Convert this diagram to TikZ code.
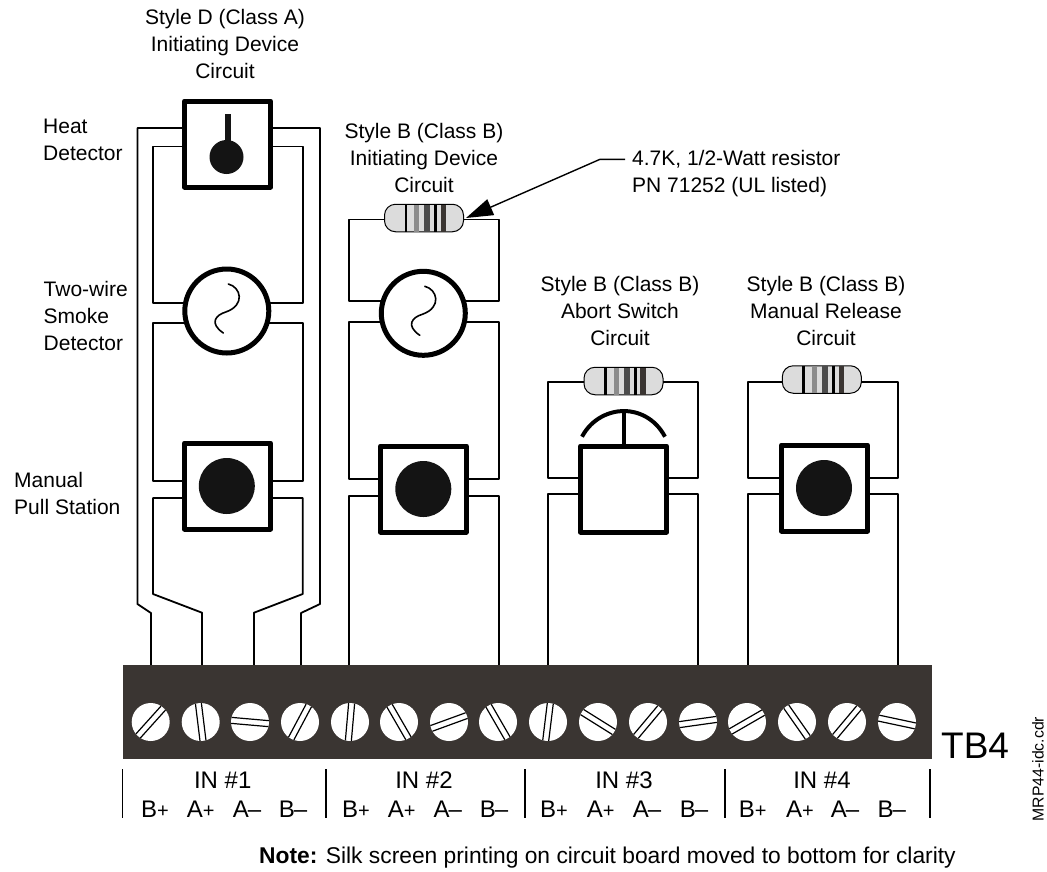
\documentclass[tikz,border=0pt]{standalone}
\usepackage{fontspec}
\setmainfont{Liberation Sans}
\usetikzlibrary{arrows.meta}
\definecolor{blockgray}{HTML}{3A3532}
\definecolor{bodygray}{HTML}{DCDCDC}
\tikzset{
    wire/.style = {line width = 1.8pt, line join = round},
    devbox/.style = {draw, line width = 5pt, fill = white, line join = round, minimum size = 86pt, inner sep = 0pt, outer sep = 0pt},
    devring/.style = {draw, circle, line width = 5pt, fill = white, minimum size = 84pt, inner sep = 0pt, outer sep = 0pt},
    devdot/.style = {circle, fill = black!92, inner sep = 0pt, outer sep = 0pt},
    screwhead/.style = {circle, fill = white, minimum size = 38pt, inner sep = 0pt, outer sep = 0pt},
    tick/.style = {line width = 1.5pt},
    lbl/.style = {align = center, font = \fontsize{21}{27}\selectfont, inner sep = 0pt},
    sidelbl/.style = {align = left, anchor = west, font = \fontsize{21}{27}\selectfont, inner sep = 0pt},
    inlbl/.style = {font = \fontsize{24}{24}\selectfont, inner sep = 0pt, anchor = base},
    pins/.style = {font = \fontsize{24}{24}\selectfont, inner sep = 0pt, anchor = base},
    resistor/.pic = {
        \node[draw, line width = 1pt, fill = bodygray, rounded corners = 11pt, minimum width = 79pt, minimum height = 27.5pt, inner sep = 0pt, outer sep = 0pt] (-body) at (0,0) {};
        \fill[black] (-19.5,-13.5) rectangle (-16.8,13.5);
        \fill[black!45] (-10,-13.5) rectangle (-4.7,13.5);
        \fill[black!70] (0.3,-13.5) rectangle (6,13.5);
        \fill[black] (10,-13.5) rectangle (13.3,13.5);
        \fill[blockgray] (16.7,-13.5) rectangle (22,13.5);
    },
    smoke/.pic = {
        \node[devring] (-body) at (0,0) {};
        \draw[line width = 1.6pt, line cap = round] (1.5,-27) .. controls (14,-24) and (19,-6) .. (-1,1) .. controls (-11,4) and (-18,12) .. (-3.5,22);
    },
}
\begin{document}
\begin{tikzpicture}[x = 1pt, y = -1pt]
    \useasboundingbox (0,0) rectangle (1047,871);
    % first circuit
    \node[devbox] (heat) at (227.5,144) {};
    \fill[black!92] (224.5,114) rectangle (230.5,145);
    \node[devdot, minimum size = 34pt] (heatdot) at (226.5,157) {};
    \pic (smokea) at (226.8,311) {smoke};
    \node[devbox] (pulla) at (227.5,486) {};
    \node[devdot, minimum size = 56pt] (pulladot) at (226.8,486) {};
    \coordinate (ta) at (151,665);
    \coordinate (tb) at (202,665);
    \coordinate (tc) at (254,665);
    \coordinate (td) at (301,665);
    \draw[wire] (heat.west |- 0,128) -- (137.5,128) -- (137.5,604) -- (151,613) -- (ta);
    \draw[wire] (heat.east |- 0,128) -- (320,128) -- (320,604) -- (301,613) -- (td);
    \draw[wire] (heat.west |- 0,146.5) -- (153,146.5) -- (153,302.7) -- (smokea-body.west |- 0,302.7);
    \draw[wire] (heat.east |- 0,146.5) -- (302.7,146.5) -- (302.7,302.7) -- (smokea-body.east |- 0,302.7);
    \draw[wire] (smokea-body.west |- 0,322.7) -- (153,322.7) -- (153,481) -- (pulla.west |- 0,481);
    \draw[wire] (smokea-body.east |- 0,322.7) -- (302.7,322.7) -- (302.7,481) -- (pulla.east |- 0,481);
    \draw[wire] (pulla.west |- 0,498) -- (153,498) -- (153,594) -- (202,612.7) -- (tb);
    \draw[wire] (pulla.east |- 0,498) -- (302.7,498) -- (302.7,594) -- (254,612.7) -- (tc);
    % second circuit
    \pic (resb) at (424,218) {resistor};
    \pic (smokeb) at (423.3,313.3) {smoke};
    \node[devbox] (pullb) at (423.3,489) {};
    \node[devdot, minimum size = 56pt] (pullbdot) at (423.3,489) {};
    \coordinate (te) at (349,665);
    \coordinate (tf) at (499.3,665);
    \draw[wire] (resb-body.west |- 0,219.5) -- (349,219.5) -- (349,301) -- (smokeb-body.west |- 0,301);
    \draw[wire] (resb-body.east |- 0,219.5) -- (499.3,219.5) -- (499.3,301) -- (smokeb-body.east |- 0,301);
    \draw[wire] (smokeb-body.west |- 0,321.7) -- (349,321.7) -- (349,479) -- (pullb.west |- 0,479);
    \draw[wire] (smokeb-body.east |- 0,321.7) -- (499.3,321.7) -- (499.3,479) -- (pullb.east |- 0,479);
    \draw[wire] (pullb.west |- 0,496) -- (349,496) -- (te);
    \draw[wire] (pullb.east |- 0,496) -- (499.3,496) -- (tf);
    % third circuit
    \pic (resc) at (623.5,381) {resistor};
    \node[devbox] (abort) at (623.5,489) {};
    \coordinate (tg) at (548,665);
    \coordinate (th) at (698,665);
    \draw[line width = 4pt] (582,436.7) .. controls (592,418) and (610,411) .. (624,411) .. controls (638,411) and (655,418) .. (665,436.7);
    \draw[line width = 4pt] (624,411) -- (abort.north -| 624,0);
    \draw[wire] (resc-body.west |- 0,381.7) -- (548,381.7) -- (548,477.7) -- (abort.west |- 0,477.7);
    \draw[wire] (resc-body.east |- 0,381.7) -- (698,381.7) -- (698,477.7) -- (abort.east |- 0,477.7);
    \draw[wire] (abort.west |- 0,494.3) -- (548,494.3) -- (tg);
    \draw[wire] (abort.east |- 0,494.3) -- (698,494.3) -- (th);
    % fourth circuit
    \pic (resd) at (821.8,379.5) {resistor};
    \node[devbox] (pullc) at (824.5,488) {};
    \node[devdot, minimum size = 56pt] (pullcdot) at (824,488) {};
    \coordinate (ti) at (747.7,665);
    \coordinate (tj) at (898,665);
    \draw[wire] (resd-body.west |- 0,381.7) -- (747.7,381.7) -- (747.7,477.7) -- (pullc.west |- 0,477.7);
    \draw[wire] (resd-body.east |- 0,381.7) -- (898,381.7) -- (898,477.7) -- (pullc.east |- 0,477.7);
    \draw[wire] (pullc.west |- 0,494) -- (747.7,494) -- (ti);
    \draw[wire] (pullc.east |- 0,494) -- (898,494) -- (tj);
    % terminal block
    \node[fill = blockgray, minimum width = 809pt, minimum height = 94pt, inner sep = 0pt, outer sep = 0pt] (block) at (527.2,712) {};
    \foreach \n/\x/\a in {1/150.7/48, 2/200.7/97, 3/250/-5, 4/300/62, 5/350/85, 6/399/120, 7/449/20, 8/498/120, 9/548/83, 10/598/148, 11/648/50, 12/698/8, 13/747/30, 14/797/125, 15/847/50, 16/897/-12} {
        \node[screwhead] (screw\n) at (\x,722) {};
        \begin{scope}[shift = {(\x,722)}, rotate = \a]
            \draw[line width = 1.2pt] (-18.7,-3) -- (18.7,-3);
            \draw[line width = 1.2pt] (-18.7,3) -- (18.7,3);
        \end{scope}
    }
    % silk screen labels
    \draw[tick] (122.7,769) -- (122.7,818);
    \draw[tick] (326,769) -- (326,818);
    \draw[tick] (525,769) -- (525,818);
    \draw[tick] (725,769) -- (725,818);
    \draw[tick] (930,769) -- (930,818);
    \node[inlbl] (ina) at (222.7,788) {IN \#1};
    \node[inlbl] (inb) at (424,788) {IN \#2};
    \node[inlbl] (inc) at (624,788) {IN \#3};
    \node[inlbl] (ind) at (822,788) {IN \#4};
    \foreach \m/\p/\q/\r/\s in {a/155/200.7/247/293, b/356/401.7/447.7/494, c/554/600.7/647/694, d/752.7/800/845/891.7} {
        \node[pins] (bp\m) at (\p,817) {B{\fontsize{20}{20}\selectfont+}};
        \node[pins] (ap\m) at (\q,817) {A{\fontsize{20}{20}\selectfont+}};
        \node[pins] (am\m) at (\r,817) {A\kern-1pt--};
        \node[pins] (bm\m) at (\s,817) {B\kern-1pt--};
    }
    \node[inner sep = 0pt, anchor = base west, font = \fontsize{37}{37}\selectfont] (tbfour) at (941,758) {TB4};
    \node[inner sep = 0pt, rotate = 90, font = \fontsize{15.8}{16}\selectfont] (drawing) at (1038,769) {MRP44-idc.cdr};
    % captions
    \node[lbl] (capa) at (225,44) {Style D (Class A)\\Initiating Device\\Circuit};
    \node[lbl] (capb) at (424,158) {Style B (Class B)\\Initiating Device\\Circuit};
    \node[lbl] (capc) at (620,311) {Style B (Class B)\\Abort Switch\\Circuit};
    \node[lbl] (capd) at (826,311) {Style B (Class B)\\Manual Release\\Circuit};
    \node[sidelbl] (labheat) at (43,139.5) {Heat\\Detector};
    \node[sidelbl] (labsmoke) at (43.5,316) {Two-wire\\Smoke\\Detector};
    \node[sidelbl] (labpull) at (14,493) {Manual\\Pull Station};
    \node[sidelbl] (labres) at (632,173.5) {4.7K, 1/2-Watt resistor\\PN 71252 (UL listed)};
    \coordinate (tipres) at (466,218);
    \draw[line width = 1.4pt, -{Triangle[length = 27pt, width = 17pt]}] (625,159.3) -- (600,159.3) -- (tipres);
    \node[inner sep = 0pt, anchor = base west, font = \fontsize{22.8}{23}\selectfont] (note) at (259,863) {\textbf{Note:} Silk screen printing on circuit board moved to bottom for clarity};
\end{tikzpicture}
\end{document}
